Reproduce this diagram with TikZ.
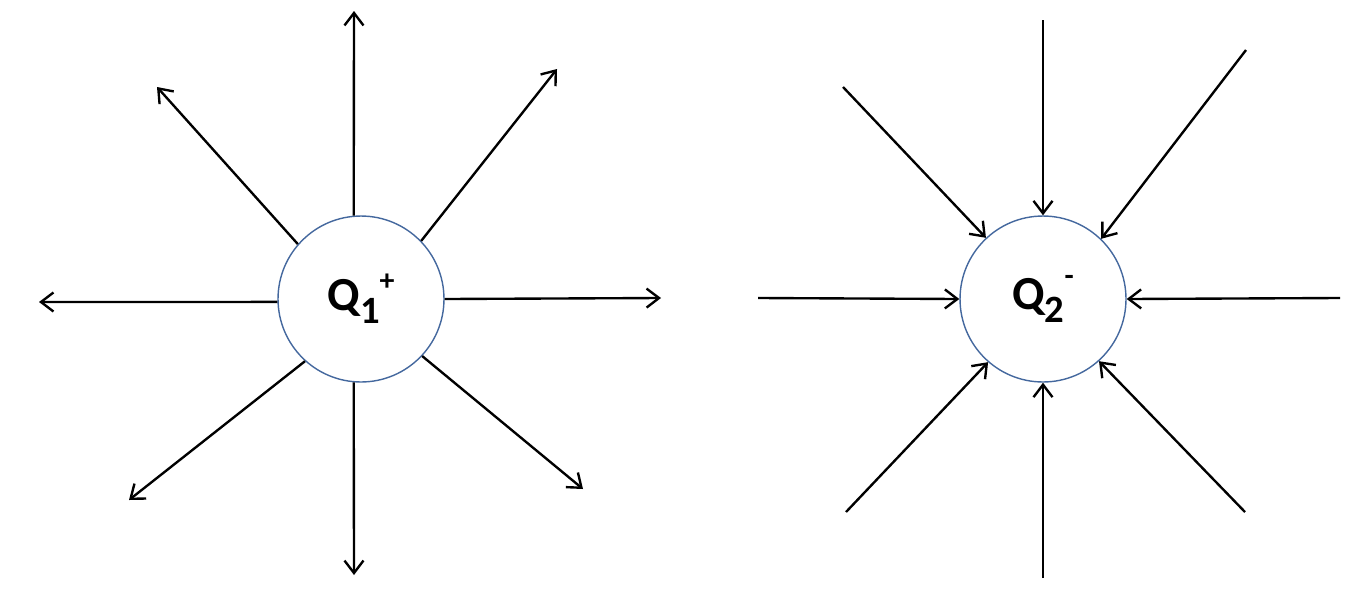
\documentclass[tikz,border=0pt]{standalone}
\usepackage{fontspec}
\setmainfont{Carlito}
\usetikzlibrary{arrows.meta}
\definecolor{chargeblue}{RGB}{68,104,158}

\begin{document}
\begin{tikzpicture}[x=0.02cm, y=-0.02cm,
  charge/.style={circle, draw=chargeblue, line width=0.8pt, minimum size=3.32cm, inner sep=0pt, font=\fontsize{27}{32}\selectfont\bfseries},
  field/.style={line width=1.35pt, -{Straight Barb[length=2.5mm,width=3.8mm]}}]

\useasboundingbox (0,0) rectangle (1371,609);

% CHARGES

\node [charge] (q1) at (361,299) {Q\raisebox{-0.28em}{\fontsize{22}{26}\selectfont 1}\raisebox{0.42em}{\fontsize{17}{20}\selectfont +}};

\node [charge] (q2) at (1043,299) {Q\raisebox{-0.28em}{\fontsize{22}{26}\selectfont 2}\raisebox{0.5em}{\fontsize{17}{20}\selectfont -}};

% FREE ENDS

\coordinate (q1-n) at (354,11);
\coordinate (q1-nw) at (157,87);
\coordinate (q1-ne) at (557,69);
\coordinate (q1-w) at (39,302);
\coordinate (q1-e) at (661,298);
\coordinate (q1-sw) at (129,500);
\coordinate (q1-s) at (354,575);
\coordinate (q1-se) at (583,489);

\coordinate (q2-n) at (1043,20);
\coordinate (q2-nw) at (843,87);
\coordinate (q2-ne) at (1246,50);
\coordinate (q2-w) at (758,298);
\coordinate (q2-e) at (1340,298);
\coordinate (q2-sw) at (846,512);
\coordinate (q2-s) at (1043,578);
\coordinate (q2-se) at (1245,512);

% FIELD LINES

\draw [field] (q1.95) -- (q1-n);
\draw [field] (q1.139) -- (q1-nw);
\draw [field] (q1.44.5) -- (q1-ne);
\draw [field] (q1.182) -- (q1-w);
\draw [field] (q1.0.7) -- (q1-e);
\draw [field] (q1.228.4) -- (q1-sw);
\draw [field] (q1.265) -- (q1-s);
\draw [field] (q1.317) -- (q1-se);

\draw [field] (q2-n) -- (q2.90);
\draw [field] (q2-nw) -- (q2.133.6);
\draw [field] (q2-ne) -- (q2.46.4);
\draw [field] (q2-w) -- (q2.180.7);
\draw [field] (q2-e) -- (q2.0.7);
\draw [field] (q2-sw) -- (q2.229.3);
\draw [field] (q2-s) -- (q2.270);
\draw [field] (q2-se) -- (q2.312);

\end{tikzpicture}
\end{document}
